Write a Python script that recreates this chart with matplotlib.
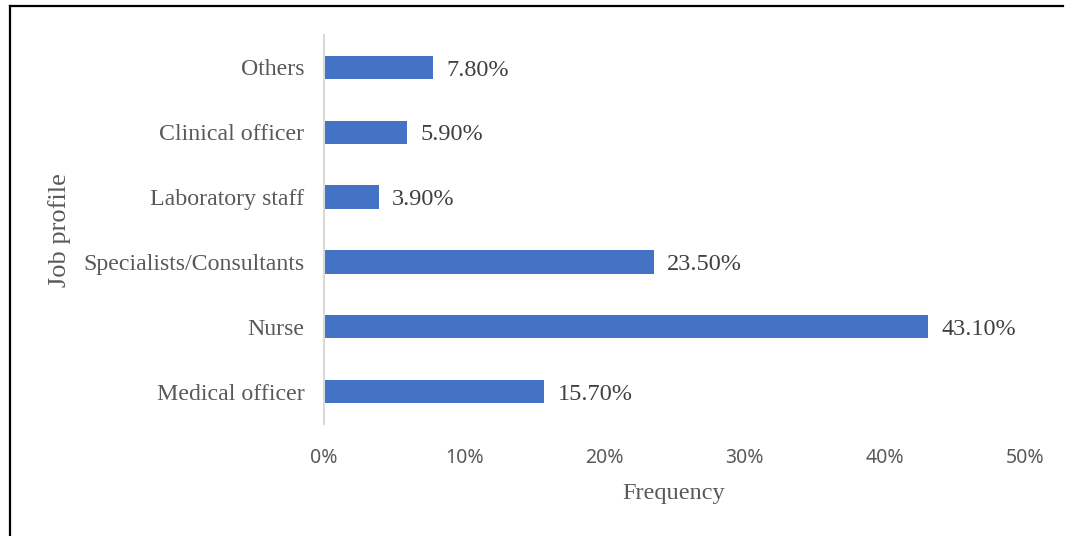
import matplotlib.pyplot as plt
from matplotlib.lines import Line2D
from matplotlib.ticker import FuncFormatter

categories = ['Medical officer', 'Nurse', 'Specialists/Consultants',
              'Laboratory staff', 'Clinical officer', 'Others']
values = [15.7, 43.1, 23.5, 3.9, 5.9, 7.8]
xticks = [0, 10, 20, 30, 40, 50]

BAR_COLOR = '#4472C4'
TEXT_COLOR = '#595959'
SERIF = 'Liberation Serif'

fig = plt.figure(figsize=(10.67, 5.36), dpi=100)
ax = fig.add_axes([0.3037, 0.209, 0.657, 0.7257])

pos = range(len(categories))
ax.barh(pos, values, height=0.36, color=BAR_COLOR, zorder=2)
for y, v in zip(pos, values):
    ax.text(v + 0.95, y - 0.04, '%.2f%%' % v, va='center', ha='left',
            fontsize=17.5, family=SERIF, color='#404040')

ax.set_xlim(0, 50)
ax.set_ylim(-0.5, len(categories) - 0.5)
ax.set_xticks(xticks)
ax.xaxis.set_major_formatter(FuncFormatter(lambda x, p: '%d%%' % x))
ax.set_yticks(list(pos))
ax.set_yticklabels(categories, family=SERIF, fontsize=17.2, color=TEXT_COLOR)
for lab in ax.get_xticklabels():
    lab.set_family('Noto Sans')
    lab.set_fontsize(14)
    lab.set_color(TEXT_COLOR)
ax.tick_params(axis='both', length=0)
ax.tick_params(axis='x', pad=17)
ax.tick_params(axis='y', pad=14)

for s in ['top', 'right', 'bottom']:
    ax.spines[s].set_visible(False)
ax.spines['left'].set_color('#d9d9d9')
ax.spines['left'].set_linewidth(1.5)

fig.text(674 / 1067, 1 - 494 / 536, 'Frequency', ha='center', va='center',
         family=SERIF, fontsize=17.5, color=TEXT_COLOR)
fig.text(60 / 1067, 1 - 230 / 536, 'Job profile', rotation=90, ha='center', va='center',
         family=SERIF, fontsize=19, color=TEXT_COLOR)

# frame around the figure (left and top edges visible)
fig.add_artist(Line2D([9.5 / 1067, 9.5 / 1067], [0, 1 - 6 / 536], color='black', lw=1.6,
                      transform=fig.transFigure))
fig.add_artist(Line2D([9.5 / 1067, 1063 / 1067], [1 - 6 / 536, 1 - 6 / 536], color='black', lw=1.6,
                      transform=fig.transFigure))

fig.savefig('out.png', dpi=100)
